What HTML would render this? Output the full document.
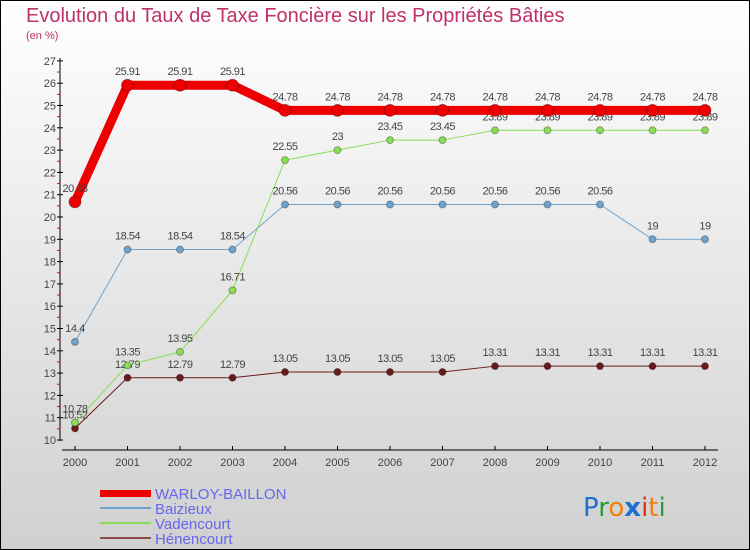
<!DOCTYPE html>
<html><head><meta charset="utf-8"><style>
body{margin:0;width:750px;height:550px;overflow:hidden}
svg{display:block;font-family:"Liberation Sans",sans-serif}
</style></head><body>
<svg id="c" width="750" height="550">
<defs><linearGradient id="bg" x1="0" y1="0" x2="0" y2="1"><stop offset="0" stop-color="#ffffff"/><stop offset="1" stop-color="#d0d0d0"/></linearGradient></defs>
<rect x="0.5" y="0.5" width="749" height="549" fill="url(#bg)" stroke="#000"/>
<text x="26" y="22" font-size="20" fill="#c0306a">Evolution du Taux de Taxe Foncière sur les Propriétés Bâties</text>
<text x="26" y="39" font-size="11" fill="#c0306a">(en %)</text>
<g id="axes"></g><g id="series"></g>
<g>
<rect x="100" y="490" width="51" height="7" fill="#ee0000"/>
<text x="155" y="499" font-size="15" fill="#6666ee">WARLOY-BAILLON</text>
<rect x="100" y="507" width="51" height="2" fill="#6fa3cc"/>
<text x="155" y="514" font-size="15" fill="#6666ee">Baizieux</text>
<rect x="100" y="522" width="51" height="2" fill="#88dd55"/>
<text x="155" y="529" font-size="15" fill="#6666ee">Vadencourt</text>
<rect x="100" y="537" width="51" height="2" fill="#8b4c4c"/>
<text x="155" y="544" font-size="15" fill="#6666ee">Hénencourt</text>
</g>
<text x="583" y="516" font-size="26" font-family="'DejaVu Sans',sans-serif"><tspan fill="#1a6fd0">P</tspan><tspan fill="#2a9a3a">r</tspan><tspan fill="#f08010">o</tspan><tspan fill="#1a6fd0" font-weight="bold">x</tspan><tspan fill="#e03010">i</tspan><tspan fill="#f08010">t</tspan><tspan fill="#2a9a3a">i</tspan></text>
</svg>
<script>
const years=[2000,2001,2002,2003,2004,2005,2006,2007,2008,2009,2010,2011,2012];
const warloy=[20.68,25.91,25.91,25.91,24.78,24.78,24.78,24.78,24.78,24.78,24.78,24.78,24.78];
const baizieux=[14.4,18.54,18.54,18.54,20.56,20.56,20.56,20.56,20.56,20.56,20.56,19,19];
const vadencourt=[10.78,13.35,13.95,16.71,22.55,23,23.45,23.45,23.89,23.89,23.89,23.89,23.89];
const henencourt=[10.52,12.79,12.79,12.79,13.05,13.05,13.05,13.05,13.31,13.31,13.31,13.31,13.31];
const yTicks=[10,11,12,13,14,15,16,17,18,19,20,21,22,23,24,25,26,27];
const NS="http://www.w3.org/2000/svg";
const xs=i=>75+i*52.5, ys=v=>440-(v-10)*22.3;
function mk(t,a,p){const e=document.createElementNS(NS,t);for(const k in a)e.setAttribute(k,a[k]);p.appendChild(e);return e;}
const ax=document.getElementById('axes');
let l=mk('line',{x1:60,y1:58,x2:60,y2:441,stroke:'#000'},ax);


l=mk('line',{x1:62,y1:450,x2:718,y2:450,stroke:'#000'},ax);


yTicks.forEach(v=>{
  mk('line',{x1:57,x2:63,y1:ys(v),y2:ys(v),stroke:'#000'},ax);
  if(v<27)mk('line',{x1:57,x2:60,y1:ys(v+0.5),y2:ys(v+0.5),stroke:'#e00'},ax);
  const t=mk('text',{x:56,y:ys(v)+4,'font-size':11,'text-anchor':'end',fill:'#444'},ax);t.textContent=v;
  
  
});
years.forEach((y,i)=>{
  mk('line',{x1:xs(i),x2:xs(i),y1:446,y2:450,stroke:'#000'},ax);
  const t=mk('text',{x:xs(i),y:466,'font-size':11,'text-anchor':'middle',fill:'#444'},ax);t.textContent=y;
  
  
});
const sg=document.getElementById('series');
function series(vals,color,w,r,name){
  const g=mk('g',{},sg);
  
  
  mk('polyline',{points:vals.map((v,i)=>xs(i)+','+ys(v)).join(' '),fill:'none',stroke:color,'stroke-width':w,'stroke-linejoin':'round'},g);
  vals.forEach((v,i)=>{
    const c=mk('circle',{cx:xs(i),cy:ys(v),r:r,fill:color,stroke:'rgba(0,0,0,0.3)','stroke-width':1},g);
    
    
    const t=mk('text',{x:xs(i),y:ys(v)-10,'font-size':11,'text-anchor':'middle',fill:'#444','letter-spacing':'-0.5'},g);
    t.textContent=String(v);
    
    
  });
}
series(henencourt,'#6a1a1a',1,3.5,'series-henencourt');
series(vadencourt,'#88dd55',1,3.5,'series-vadencourt');
series(baizieux,'#6fa3cc',1,3.5,'series-baizieux');
series(warloy,'#ee0000',9,6,'series-warloy');
</script>
</body></html>
